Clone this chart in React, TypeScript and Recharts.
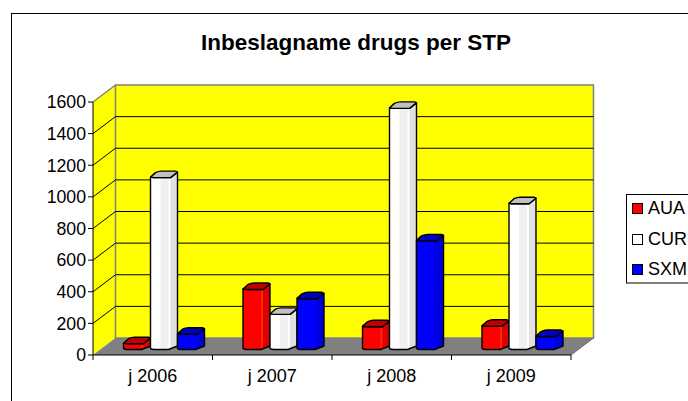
import React from 'react';
import { BarChart, Bar, XAxis, YAxis, Legend, usePlotArea } from 'recharts';

const years = ['j 2006', 'j 2007', 'j 2008', 'j 2009'];
const aua = [40, 383, 147, 150];
const cur = [1090, 225, 1528, 925];
const sxm = [100, 324, 690, 85];
const yTicks = [0, 200, 400, 600, 800, 1000, 1200, 1400, 1600];

const rows = years.map((year, i) => ({ year, AUA: aua[i], CUR: cur[i], SXM: sxm[i] }));

const FONT = '"Liberation Sans", Arial, sans-serif';
const DEPTH_X = 22.5;
const DEPTH_Y = 17;
const YMAX = 1600;

const shades: Record<string, { mid: string; side: string; top: string }> = {
  '#ff0000': { mid: '#ff2a00', side: '#dc0000', top: '#c00000' },
  '#ffffff': { mid: '#f0f0f0', side: '#e0e0e0', top: '#c0c0c0' },
  '#0000ff': { mid: '#0000f0', side: '#0000d8', top: '#0000c0' },
};

// walls, floor and grid sit behind the bars, in the chart's own plot area
const Walls = () => {
  const plot = usePlotArea();
  if (!plot) return null;
  const { x, y, width, height } = plot;
  const bottom = y + height;
  const right = x + width;
  const yOf = (t: number) => y + height * (1 - t / YMAX);
  return (
    <g>
      <polygon
        points={`${x},${y} ${x + DEPTH_X},${y - DEPTH_Y} ${x + DEPTH_X},${bottom - DEPTH_Y} ${x},${bottom}`}
        fill="#ffff00"
      />
      <rect x={x + DEPTH_X} y={y - DEPTH_Y} width={width} height={height} fill="#ffff00" stroke="#808080" strokeWidth={1.5} />
      <polygon
        points={`${x},${bottom} ${x + DEPTH_X},${bottom - DEPTH_Y} ${right + DEPTH_X},${bottom - DEPTH_Y} ${right},${bottom}`}
        fill="#808080"
      />
      <line x1={x} y1={y} x2={x + DEPTH_X} y2={y - DEPTH_Y} stroke="#808080" strokeWidth={1.5} />
      <line x1={right} y1={bottom} x2={right + DEPTH_X} y2={bottom - DEPTH_Y} stroke="#6a6a6a" />
      {yTicks
        .filter((t) => t > 0 && t < YMAX)
        .map((t) => (
          <polyline
            key={t}
            points={`${x},${yOf(t)} ${x + DEPTH_X},${yOf(t) - DEPTH_Y} ${right + DEPTH_X},${yOf(t) - DEPTH_Y}`}
            fill="none"
            stroke="#000000"
            strokeWidth={1}
          />
        ))}
      {years.concat('').map((_, i) => {
        const tx = x + (width * i) / years.length;
        return <line key={i} x1={tx} y1={bottom} x2={tx} y2={bottom + 5} stroke="#000000" />;
      })}
    </g>
  );
};

const Bar3D = (props: any) => {
  const { x, y, width, height, fill } = props;
  const left = x + 11.5;
  const top = y - 5.5;
  const base = top + height;
  const w = width;
  const fw = 20;
  const c = shades[fill];
  const outline = `M${left},${top} L${left},${base - 1} Q${left + 1},${base} ${left + 4},${base} L${left + fw - 2},${base} L${left + w},${base - 3.5} L${left + w},${top - 5} L${left + fw},${top + 0.5} L${left + 3},${top + 0.5} Z`;
  const cap = `M${left},${top} L${left + 5},${top - 4.5} Q${left + 8},${top - 6} ${left + 11},${top - 6} L${left + w - 2},${top - 6} L${left + w},${top - 5} L${left + fw},${top + 0.5} L${left + 3},${top + 0.5} Z`;
  return (
    <g>
      <path d={outline} fill={fill} />
      <rect x={left + (fill === '#ffffff' ? 10 : fw - 2)} y={top} width={fill === '#ffffff' ? 8 : 2} height={height - 1} fill={c.mid} />
      <polygon points={`${left + fw},${top + 0.5} ${left + w},${top - 5} ${left + w},${base - 3.5} ${left + fw},${base - 0.5}`} fill={c.side} />
      <path d={outline} fill="none" stroke="#000000" strokeWidth={1.4} strokeLinejoin="round" />
      <path d={cap} fill={c.top} stroke="#000000" strokeWidth={1.4} strokeLinejoin="round" />
    </g>
  );
};

const LegendBox = ({ payload }: any) => (
  <div style={{ border: '1px solid #000', borderRightWidth: 2, borderBottomWidth: 2, borderColor: '#000 #000 #808080 #000', width: 80, height: 87, background: '#fff', boxSizing: 'content-box', fontFamily: FONT, fontSize: 18, paddingTop: 0 }}>
    {(payload || []).map((item: any, i: number) => (
      <div key={item.value} style={{ position: 'absolute', left: 6, top: 4 + i * 30.5, height: 20, lineHeight: '20px', whiteSpace: 'nowrap', color: '#000' }}>
        <span style={{ display: 'inline-block', width: 9, height: 9, border: '1px solid #000', background: item.color, marginRight: 5, verticalAlign: 0 }} />
        {item.value}
      </div>
    ))}
  </div>
);

export default function App() {
  return (
    <div style={{ position: 'fixed', left: 0, top: 0, width: 688, height: 401, overflow: 'hidden', background: '#fff' }}>
      <div style={{ position: 'absolute', left: 11, top: 13, width: 800, height: 500, border: '1px solid #000' }} />
      <div style={{ position: 'absolute', left: 0, top: 0 }}>
        <BarChart
          width={688}
          height={401}
          data={rows}
          margin={{ top: 102, right: 117, bottom: 0, left: 43 }}
          barCategoryGap={19}
          barGap={0}
          barSize={27}
        >
          <text x={356} y={50} textAnchor="middle" fontFamily={FONT} fontWeight="bold" fontSize={22.5} fill="#000000">
            Inbeslagname drugs per STP
          </text>
          <Walls />
          <XAxis
            dataKey="year"
            height={46}
            tickLine={false}
            axisLine={{ stroke: '#000000', strokeWidth: 1 }}
            tick={{ fill: '#000000', fontSize: 18, fontFamily: FONT }}
            tickMargin={8}
            interval={0}
          />
          <YAxis
            width={50}
            domain={[0, YMAX]}
            ticks={yTicks}
            interval={0}
            tickSize={5}
            tickLine={{ stroke: '#000000' }}
            axisLine={{ stroke: '#000000', strokeWidth: 1 }}
            tick={{ fill: '#000000', fontSize: 17.7, fontFamily: FONT }}
            tickMargin={2}
          />
          <Legend
            layout="vertical"
            align="center"
            verticalAlign="middle"
            wrapperStyle={{ left: 626, top: 194, width: 82, height: 89, right: 'auto', bottom: 'auto' }}
            content={<LegendBox />}
          />
          <Bar dataKey="AUA" fill="#ff0000" isAnimationActive={false} shape={<Bar3D />} />
          <Bar dataKey="CUR" fill="#ffffff" isAnimationActive={false} shape={<Bar3D />} />
          <Bar dataKey="SXM" fill="#0000ff" isAnimationActive={false} shape={<Bar3D />} />
        </BarChart>
      </div>
    </div>
  );
}
